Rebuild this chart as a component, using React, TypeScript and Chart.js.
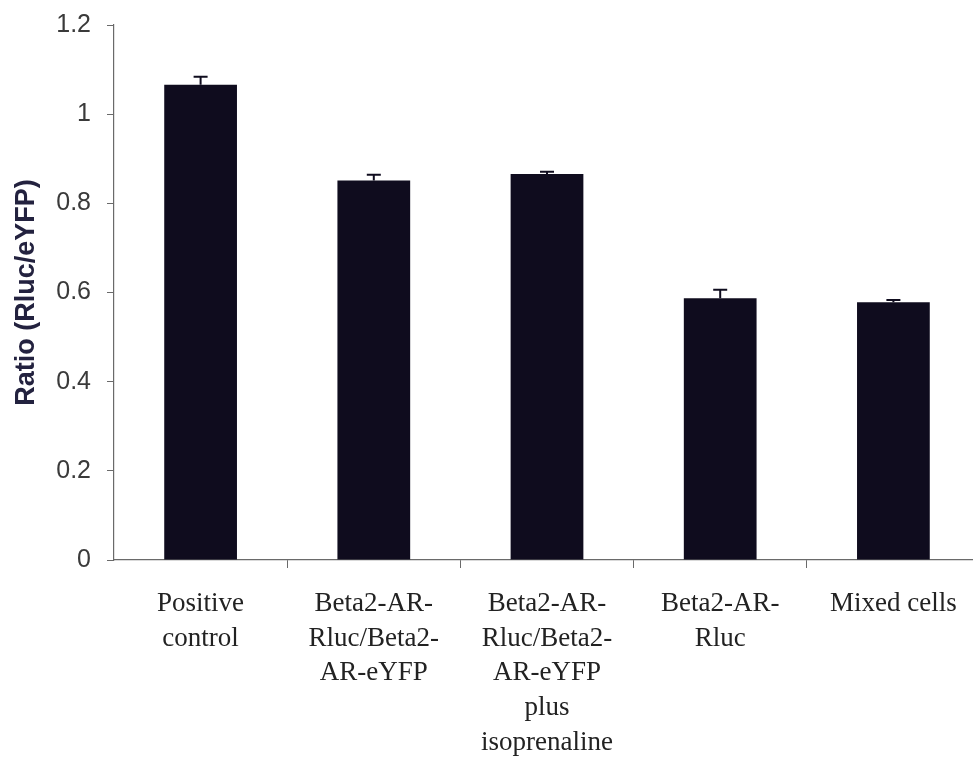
import React, { useEffect, useRef } from "react";
import { Chart, registerables } from "chart.js";

Chart.register(...registerables);

const categories: string[][] = [
  ["Positive", "control"],
  ["Beta2-AR-", "Rluc/Beta2-", "AR-eYFP"],
  ["Beta2-AR-", "Rluc/Beta2-", "AR-eYFP", "plus", "isoprenaline"],
  ["Beta2-AR-", "Rluc"],
  ["Mixed cells"],
];
const ratioValues: number[] = [1.066, 0.851, 0.866, 0.587, 0.578];
const ratioErrors: number[] = [0.018, 0.013, 0.005, 0.019, 0.005];
const yTicks: number[] = [0, 0.2, 0.4, 0.6, 0.8, 1, 1.2];

const BAR = "#0f0c1e";

const errorBarPlugin = {
  id: "errorBars",
  afterDatasetsDraw(chart: any) {
    const { ctx, scales } = chart;
    const meta = chart.getDatasetMeta(0);
    ctx.save();
    ctx.strokeStyle = BAR;
    ctx.lineWidth = 2;
    meta.data.forEach((bar: any, i: number) => {
      const x = bar.x;
      const yTop = scales.y.getPixelForValue(ratioValues[i] + ratioErrors[i]);
      const yBase = scales.y.getPixelForValue(ratioValues[i]);
      ctx.beginPath();
      ctx.moveTo(x, yBase);
      ctx.lineTo(x, yTop);
      ctx.moveTo(x - 7, yTop);
      ctx.lineTo(x + 7, yTop);
      ctx.stroke();
    });
    ctx.restore();
  },
};

export default function App() {
  const ref = useRef<HTMLCanvasElement | null>(null);
  useEffect(() => {
    if (!ref.current) return;
    const chart = new Chart(ref.current, {
      type: "bar",
      data: {
        labels: categories,
        datasets: [
          {
            data: ratioValues,
            backgroundColor: BAR,
            borderWidth: 0,
            categoryPercentage: 1,
            barPercentage: 0.42,
          },
        ],
      },
      options: {
        animation: false,
        responsive: false,
        devicePixelRatio: 1,
        layout: { padding: { top: 25, left: 0, right: 0, bottom: 0 } },
        plugins: { legend: { display: false }, tooltip: { enabled: false } },
        scales: {
          x: {
            afterFit: (s: any) => {
              s.height = 203;
            },
            border: { display: true, color: "#6a6a6a", width: 1.2 },
            grid: {
              display: true,
              offset: true,
              drawOnChartArea: false,
              drawTicks: true,
              tickLength: 8,
              color: (c: any) => (c.index === 0 ? "rgba(0,0,0,0)" : "#6a6a6a"),
            },
            ticks: {
              color: "#222222",
              padding: 19,
              maxRotation: 0,
              autoSkip: false,
              font: { family: "'Liberation Serif', 'Times New Roman', serif", size: 27, lineHeight: 1.28 },
            },
          },
          y: {
            min: 0,
            max: 1.2,
            afterFit: (s: any) => {
              s.width = 114;
              s.paddingTop = 0;
              s.paddingBottom = 0;
            },
            afterBuildTicks: (s: any) => {
              s.ticks = yTicks.map((v) => ({ value: v }));
            },
            border: { display: true, color: "#6a6a6a", width: 1.2 },
            grid: {
              display: true,
              drawOnChartArea: false,
              drawTicks: true,
              tickLength: 7,
              color: "#6a6a6a",
            },
            ticks: {
              color: "#3a3a3a",
              padding: 16,
              font: { family: "'Liberation Sans', Arial, sans-serif", size: 25 },
              callback: (v: any) => String(Math.round(Number(v) * 10) / 10),
            },
            title: {
              display: true,
              text: "Ratio (Rluc/eYFP)",
              color: "#23223f",
              padding: { top: 10, bottom: 0 },
              font: { family: "'Liberation Sans', Arial, sans-serif", size: 27, weight: "bold" },
            },
          },
        },
      },
      plugins: [errorBarPlugin],
    });
    return () => chart.destroy();
  }, []);
  return (
    <div style={{ position: "fixed", left: 0, top: 0, width: 973, height: 763, overflow: "hidden", background: "#fff" }}>
      <canvas ref={ref} width={980} height={763} style={{ display: "block", width: 980, height: 763 }} />
    </div>
  );
}
